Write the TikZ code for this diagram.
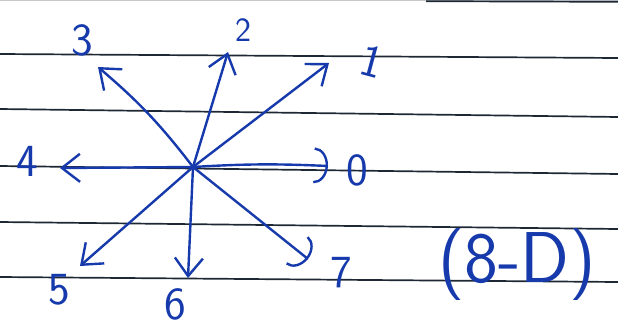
\documentclass[tikz,border=0pt]{standalone}
\usetikzlibrary{arrows.meta}
\definecolor{ink}{RGB}{22,58,172}
\definecolor{paperrule}{RGB}{30,40,52}
\tikzset{
  rulerline/.style={draw=paperrule, line width=1.7pt},
  ray/.style={draw=ink, line width=2.4pt, line cap=round,
    -{Straight Barb[length=18pt,width=28pt,line width=2.4pt]}},
  hookray/.style={draw=ink, line width=2.4pt, line cap=round,
    -{Arc Barb[length=14pt,width=36pt,line width=2.4pt]}},
  digit/.style={text=ink, font=\sffamily\fontsize{46}{46}\selectfont, inner sep=0pt},
  smalldigit/.style={digit, font=\sffamily\fontsize{34}{34}\selectfont},
  bigtag/.style={text=ink, font=\sffamily\fontsize{72}{72}\selectfont, inner sep=0pt},
}
\begin{document}
\begin{tikzpicture}[x=1pt,y=-1pt]
\useasboundingbox (0,0) rectangle (618,327);
\fill[white] (0,0) rectangle (618,327);
% ruled paper
\draw[paperrule!25, line width=1pt] (0,0.5) -- (618,0.5);
\draw[rulerline] (426,1.2) -- (618,1.8);
\draw[rulerline] (0,54) -- (618,58);
\draw[rulerline] (0,109) -- (618,117);
\draw[rulerline] (0,166) -- (618,174);
\draw[rulerline] (0,222) -- (618,229);
\draw[rulerline] (0,277) -- (618,282);
% star centre and tips
\coordinate (c) at (193,167);
\coordinate (t0) at (328,166);
\coordinate (t1) at (329,63);
\coordinate (t2) at (228,52);
\coordinate (t3) at (98,67);
\coordinate (t4) at (60,168);
\coordinate (t5) at (80,266);
\coordinate (t6) at (188,278);
\coordinate (t7) at (308,259);
% rays
\draw[hookray] (c) to[bend left=3] (t0);
\draw[ray] (c) -- (t1);
\draw[ray] (c) -- (t2);
\draw[ray] (c) to[bend right=6] (t3);
\draw[ray] (c) -- (t4);
\draw[ray] (c) -- (t5);
\draw[ray] (c) -- (t6);
\draw[hookray] (c) -- (t7);
% labels
\node[digit] (l0) at (357,170) {0};
\node[digit, rotate=-15] (l1) at (372,61) {1};
\node[smalldigit] (l2) at (243,30) {2};
\node[digit] (l3) at (82,40) {3};
\node[digit] (l4) at (27,161) {4};
\node[digit] (l5) at (59,290) {5};
\node[digit] (l6) at (175,304) {6};
\node[digit] (l7) at (341,273) {7};
\node[bigtag] (tag) at (517,265) {(8-D)};
\end{tikzpicture}
\end{document}
